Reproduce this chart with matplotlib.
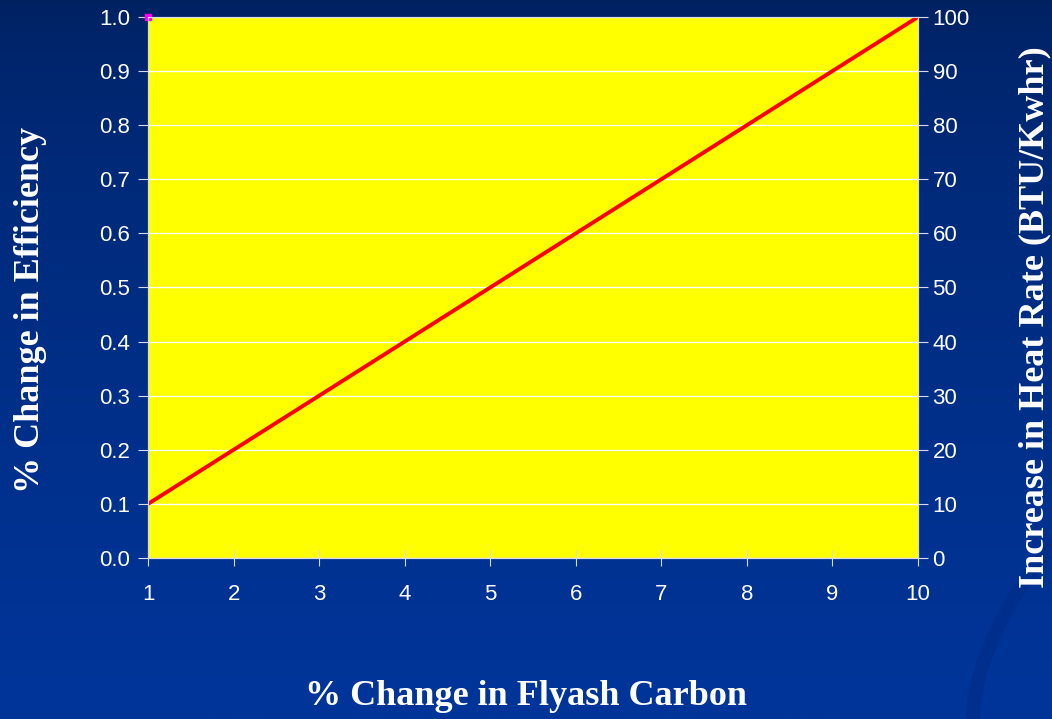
import numpy as np
import matplotlib.pyplot as plt
from matplotlib.patches import Ellipse

# data
flyash_carbon = [1, 2, 3, 4, 5, 6, 7, 8, 9, 10]
eff_change = [0.1, 0.2, 0.3, 0.4, 0.5, 0.6, 0.7, 0.8, 0.9, 1.0]
marker_x = [1]
marker_y = [1.0]
left_ticks = [0.0, 0.1, 0.2, 0.3, 0.4, 0.5, 0.6, 0.7, 0.8, 0.9, 1.0]
right_ticks = [0, 10, 20, 30, 40, 50, 60, 70, 80, 90, 100]

fig = plt.figure(figsize=(10.52, 7.19), dpi=100)

# blue gradient background
bg = fig.add_axes([0, 0, 1, 1], zorder=-10)
grad = np.linspace(0, 1, 256).reshape(-1, 1)
top = np.array([0x00, 0x21, 0x60]) / 255
bot = np.array([0x00, 0x35, 0x9a]) / 255
img = top + (bot - top) * grad[:, :, None] ** 0.6
bg.imshow(img, aspect='auto', extent=[0, 1, 0, 1], origin='upper')
# faint swirl in the corner
bg.add_patch(Ellipse((1.02, 0.12), 0.14, 0.40, angle=-20, fill=False,
                     lw=10, ec=(0, 0.17, 0.52), alpha=0.5))
bg.set_xlim(0, 1)
bg.set_ylim(0, 1)
bg.axis('off')

ax = fig.add_axes([0.1407, 0.2239, 0.7319, 0.7525])
ax.set_facecolor('#ffff00')
ax.plot(flyash_carbon, eff_change, color='#ff0000', lw=2.8, zorder=3)
ax.plot(marker_x, marker_y, 's', color='#ff00ff', ms=5, zorder=4, clip_on=False)

ax.set_xlim(1, 10)
ax.set_ylim(0, 1)
ax.set_xticks(flyash_carbon)
ax.set_yticks(left_ticks)
ax.set_yticklabels([f'{v:.1f}' for v in left_ticks])
ax.grid(axis='y', color='white', lw=1)
ax.set_axisbelow(True)

for s in ax.spines.values():
    s.set_color('#d8d8e8')
ax.tick_params(colors='#d8d8e8', labelcolor='white', labelsize=16)
ax.tick_params(axis='x', direction='inout', length=12, pad=13)
ax.tick_params(axis='y', direction='out', length=7, pad=6)
for lab in ax.get_xticklabels() + ax.get_yticklabels():
    lab.set_family('Liberation Sans')

ax2 = ax.twinx()
ax2.set_ylim(0, 100)
ax2.set_yticks(right_ticks)
ax2.tick_params(colors='#d8d8e8', labelcolor='white', labelsize=16,
                direction='out', length=7)
for lab in ax2.get_yticklabels():
    lab.set_family('Liberation Sans')
for s in ax2.spines.values():
    s.set_color('#d8d8e8')

lab_font = dict(family='Liberation Serif', weight='bold', size=26, color='white')
fig.text(0.5, 0.031, '% Change in Flyash Carbon', ha='center', va='center', **lab_font)
fig.text(0.029, 0.569, '% Change in Efficiency', ha='center', va='center',
         rotation=90, **lab_font)
fig.text(0.984, 0.559, 'Increase in Heat Rate (BTU/Kwhr)', ha='center', va='center',
         rotation=90, **lab_font)

fig.savefig('out.png', dpi=100)
